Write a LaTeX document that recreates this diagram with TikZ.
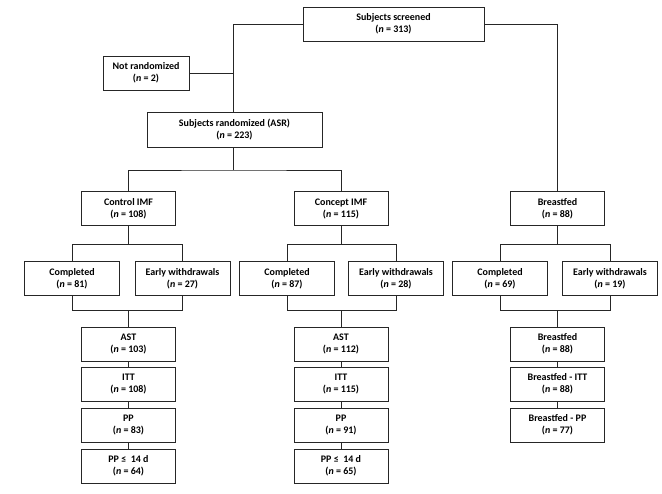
\documentclass[tikz,border=0pt]{standalone}
\usepackage{fontspec}
\setmainfont{Carlito}
\begin{document}
\begin{tikzpicture}[x=1pt,y=-1pt,
  box/.style={draw=black!85, line width=0.8pt, fill=white, minimum width=94pt, minimum height=34pt, inner sep=1pt, align=center, font=\bfseries\fontsize{10}{12}\selectfont},
  conn/.style={draw=black!85, line width=0.8pt}]
\useasboundingbox (0,0) rectangle (662,494);
% top
\node[box, minimum width=181pt] (scr) at (393.5,24) {Subjects screened\\(\textit{n} = 313)};
\node[box, minimum width=86pt] (notr) at (146,73) {Not randomized\\(\textit{n} = 2)};
\node[box, minimum width=175pt, minimum height=35pt] (rand) at (234.5,129.5) {Subjects randomized (ASR)\\(\textit{n} = 223)};
% group row
\node[box] (ctl) at (128.5,208.5) {Control IMF\\(\textit{n} = 108)};
\node[box] (cpt) at (341,208.5) {Concept IMF\\(\textit{n} = 115)};
\node[box] (bf) at (557.5,208.5) {Breastfed\\(\textit{n} = 88)};
% completed / withdrawals
\node[box, minimum width=95pt] (c1) at (72,278.5) {Completed\\(\textit{n} = 81)};
\node[box, minimum width=95pt] (e1) at (182.5,278.5) {Early withdrawals\\(\textit{n} = 27)};
\node[box, minimum width=95pt] (c2) at (287,278.5) {Completed\\(\textit{n} = 87)};
\node[box, minimum width=95pt] (e2) at (396,278.5) {Early withdrawals\\(\textit{n} = 28)};
\node[box, minimum width=95pt] (c3) at (500,278.5) {Completed\\(\textit{n} = 69)};
\node[box, minimum width=95pt] (e3) at (610,278.5) {Early withdrawals\\(\textit{n} = 19)};
% analysis sets
\node[box] (a1) at (128.5,344) {AST\\(\textit{n} = 103)};
\node[box] (i1) at (128.5,384) {ITT\\(\textit{n} = 108)};
\node[box] (p1) at (128.5,425) {PP\\(\textit{n} = 83)};
\node[box] (q1) at (128.5,466) {PP ≤ \ 14 d\\(\textit{n} = 64)};
\node[box] (a2) at (341,344) {AST\\(\textit{n} = 112)};
\node[box] (i2) at (341,384) {ITT\\(\textit{n} = 115)};
\node[box] (p2) at (341,425) {PP\\(\textit{n} = 91)};
\node[box] (q2) at (341,466) {PP ≤ \ 14 d\\(\textit{n} = 65)};
\node[box] (a3) at (557.5,344) {Breastfed\\(\textit{n} = 88)};
\node[box] (i3) at (557.5,384) {Breastfed - ITT\\(\textit{n} = 88)};
\node[box] (p3) at (557.5,425) {Breastfed - PP\\(\textit{n} = 77)};
% connectors top
\coordinate (jl) at (233,24);
\draw[conn] (scr.west) -- (jl) -- (jl |- rand.north);
\draw[conn] (notr.east) -- (notr.east -| jl);
\draw[conn] (scr.east) -| (bf.north);
\coordinate (r1) at (233,170);
\draw[conn] (jl |- rand.south) -- (r1);
\draw[conn] (ctl.north) |- (r1) -| (cpt.north);
% brackets
\foreach \g/\c/\e/\a in {ctl/c1/e1/a1, cpt/c2/e2/a2, bf/c3/e3/a3}{
  \path (\g.south) ++(0,19) coordinate (k\g);
  \draw[conn] (\g.south) -- (k\g);
  \draw[conn] (\c.north) |- (k\g) -| (\e.north);
  \path (\a.north) ++(0,-16) coordinate (m\g);
  \draw[conn] (\c.south) |- (m\g) -| (\e.south);
  \draw[conn] (m\g) -- (\a.north);
}
\draw[conn] (a1) -- (i1); \draw[conn] (i1) -- (p1); \draw[conn] (p1) -- (q1);
\draw[conn] (a2) -- (i2); \draw[conn] (i2) -- (p2); \draw[conn] (p2) -- (q2);
\draw[conn] (a3) -- (i3); \draw[conn] (i3) -- (p3);
\end{tikzpicture}
\end{document}
